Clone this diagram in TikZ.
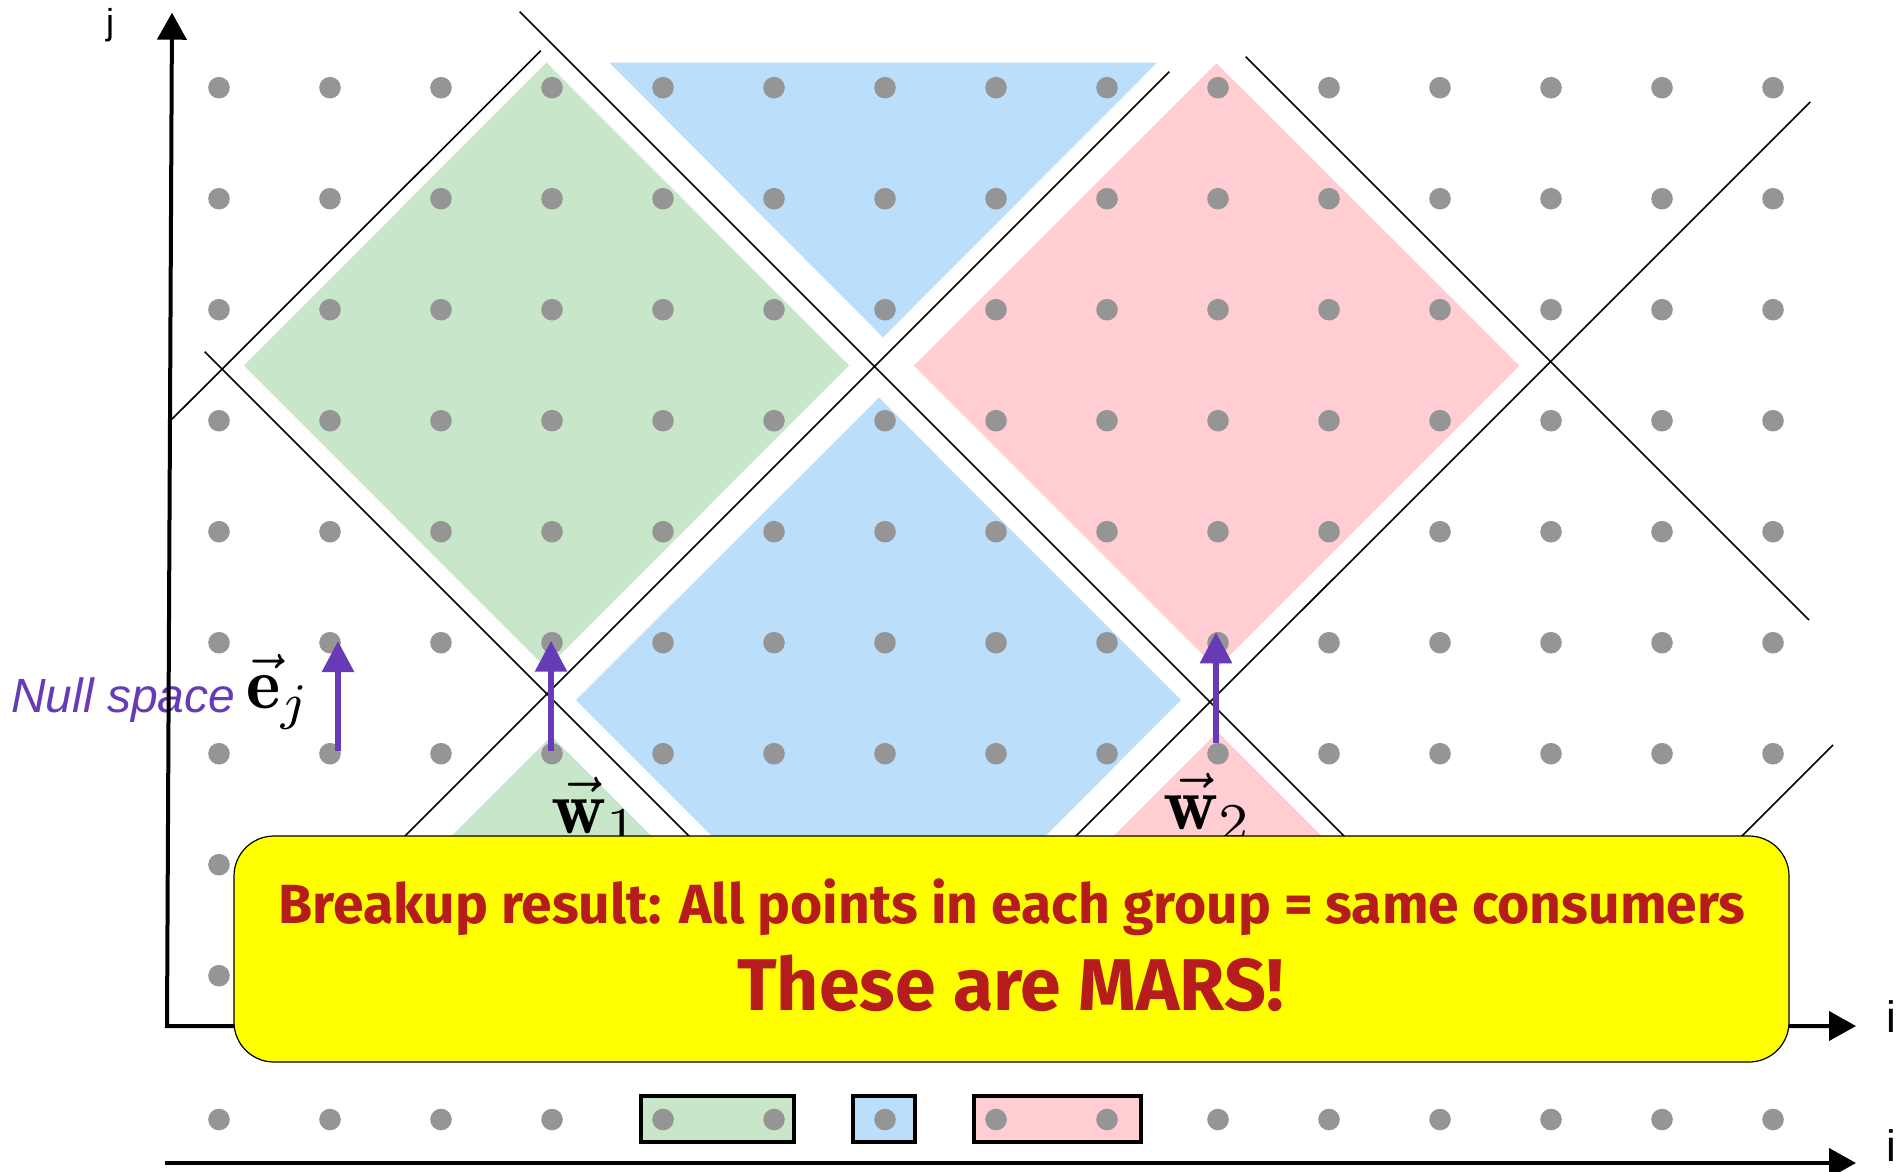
\documentclass[tikz,border=0pt]{standalone}
\usepackage{fontspec}
\newfontfamily\boxfont{Fira Sans}
\newfontfamily\arialfont{Liberation Sans}
\usetikzlibrary{arrows.meta}
\definecolor{gfill}{RGB}{200,230,201}
\definecolor{bfill}{RGB}{187,222,251}
\definecolor{pfill}{RGB}{255,205,210}
\definecolor{dotgray}{RGB}{149,149,149}
\definecolor{purp}{RGB}{103,58,183}
\definecolor{boxred}{RGB}{183,28,28}
\definecolor{boxyellow}{RGB}{255,255,0}
\begin{document}
\begin{tikzpicture}[x=1pt,y=-1pt,
  cut/.style={line width=1.6pt, black},
  axisline/.style={line width=4pt, black},
  nullarrow/.style={line width=6pt, purp, -{Triangle[width=31pt,length=31pt]}},
  lbl/.style={inner sep=0pt, anchor=base west},
  mathlbl/.style={inner sep=0pt, anchor=base west, font=\fontsize{10}{12}\selectfont},
  groupbox/.style={line width=4pt, black},
]
\useasboundingbox (0,0) rectangle (1900,1172);
% coloured regions
\fill[gfill] (244,365.5) -- (546.5,62.5) -- (849,365.5) -- (546.5,668.5) -- cycle;
\fill[bfill] (609.4,62.7) -- (1157,62.7) -- (883,337.3) -- cycle;
\fill[bfill] (576,700) -- (879,397.7) -- (1181,700) -- (879,1003) -- cycle;
\fill[pfill] (913.8,365.7) -- (1216.5,63.3) -- (1519.4,365.7) -- (1216.5,668.5) -- cycle;
\fill[gfill] (551.5,736) -- (351.5,936) -- (751.5,936) -- cycle;
\fill[pfill] (1217.5,732) -- (1017.5,932) -- (1417.5,932) -- cycle;
% grid dots
\foreach \k in {0,...,14}{
  \foreach \m in {0,...,8}{
    \fill[dotgray] ({219+111*\k},{87.7+111*\m}) circle[radius=10.8pt];
  }
}
% cut lines
\draw[cut] (171.8,419.3) -- (540.8,50.7);
\draw[cut] (519.7,11.7) -- (1348,840);
\draw[cut] (1169.2,71.7) -- (401,840);
\draw[cut] (1245.7,56.7) -- (1809,620);
\draw[cut] (1810.3,102) -- (1072,840);
\draw[cut] (204.7,351.7) -- (693,840);
\draw[cut] (1833,745) -- (1738,840);
% null space arrows
\coordinate (a1s) at (338,750.5);
\coordinate (a1e) at (338,641);
\coordinate (a2s) at (551,750.7);
\coordinate (a2e) at (551,640.7);
\coordinate (a3s) at (1216,742.7);
\coordinate (a3e) at (1216,632.3);
\draw[nullarrow] (a1s) -- (a1e);
\draw[nullarrow] (a2s) -- (a2e);
\draw[nullarrow] (a3s) -- (a3e);
% labels
\node[lbl, text=purp] (nulls) at (11,712.7) {\arialfont\itshape\fontsize{48}{57}\selectfont Null space};
\node[mathlbl, scale=7.3] (ej) at (245,708.5) {$\vec{\mathbf{e}}_j$};
\node[mathlbl, scale=7.6] (w1) at (550,833) {$\vec{\mathbf{w}}_1$};
\node[mathlbl, scale=7.6] (w2) at (1162,829) {$\vec{\mathbf{w}}_2$};
\node[lbl] (jlab) at (106,35) {\arialfont\fontsize{36}{42}\selectfont j};
\node[lbl] (ilab1) at (1886,1032) {\arialfont\fontsize{44}{52}\selectfont i};
\node[lbl] (ilab2) at (1886,1161) {\arialfont\fontsize{44}{52}\selectfont i};
% axes
\coordinate (jtip) at (172,12.7);
\coordinate (origin) at (167,1026);
\coordinate (itip) at (1856,1026);
\draw[axisline, line join=miter, {Triangle[width=29pt,length=27pt]}-{Triangle[width=29pt,length=27pt]}] (jtip) -- (origin) -- (itip);
\coordinate (bstart) at (165,1163);
\coordinate (btip) at (1856,1163);
\draw[axisline, -{Triangle[width=29pt,length=27pt]}] (bstart) -- (btip);
% bottom row group boxes
\filldraw[groupbox, fill=gfill] (641,1095.5) rectangle (793.5,1142);
\filldraw[groupbox, fill=bfill] (852.5,1095.5) rectangle (915,1142);
\filldraw[groupbox, fill=pfill] (973.5,1095.5) rectangle (1141,1142);
\foreach \k in {0,...,14}{
  \fill[dotgray] ({219+111*\k},1119.5) circle[radius=10.8pt];
}
% result box
\filldraw[fill=boxyellow, draw=black, line width=1.2pt, rounded corners=40pt] (234,836) rectangle (1789,1062);
\node[inner sep=0pt, anchor=base, text=boxred] (res1) at (1012,923) {\boxfont\bfseries\fontsize{55.2}{66}\selectfont Breakup result: All points in each group = same consumers};
\node[inner sep=0pt, anchor=base, text=boxred] (res2) at (1010.5,1010) {\boxfont\bfseries\fontsize{73.4}{88}\selectfont These are MARS!};
\end{tikzpicture}
\end{document}
